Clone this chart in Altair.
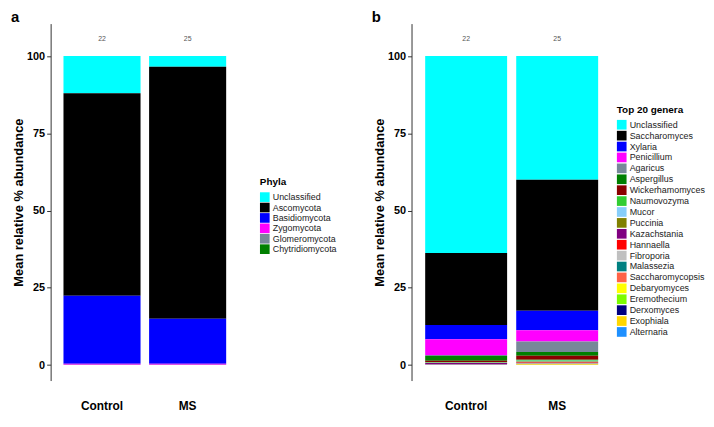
import altair as alt
import pandas as pd

groups = ["Control", "MS"]
counts = [22, 25]

phyla = ["Unclassified", "Ascomycota", "Basidiomycota", "Zygomycota",
         "Glomeromycota", "Chytridiomycota"]
phyla_colors = ["#00FFFF", "#000000", "#0000FF", "#FF00FF", "#778899", "#008000"]
phyla_control = [12.0, 65.6, 22.0, 0.3, 0.05, 0.05]
phyla_ms = [3.5, 81.5, 14.6, 0.3, 0.05, 0.05]

genera = ["Unclassified", "Saccharomyces", "Xylaria", "Penicillium", "Agaricus",
          "Aspergillus", "Wickerhamomyces", "Naumovozyma", "Mucor", "Puccinia",
          "Kazachstania", "Hannaella", "Fibroporia", "Malassezia",
          "Saccharomycopsis", "Debaryomyces", "Eremothecium", "Derxomyces",
          "Exophiala", "Alternaria"]
genera_colors = ["#00FFFF", "#000000", "#0000FF", "#FF00FF", "#778899",
                 "#008000", "#8B0000", "#32CD32", "#87CEFA", "#808000",
                 "#800080", "#FF0000", "#C0C0C0", "#008080", "#FF6347",
                 "#FFFF00", "#7CFC00", "#000080", "#FFD700", "#1E90FF"]
genera_control = [63.73, 23.3, 4.6, 5.1, 0.3, 1.6, 0.4, 0.1, 0.1, 0.1,
                  0.3, 0.05, 0.1, 0.05, 0.05, 0.02, 0.02, 0.02, 0.03, 0.03]
genera_ms = [40.0, 42.4, 6.3, 3.7, 3.4, 1.2, 1.3, 0.3, 0.2, 0.3,
             0.1, 0.1, 0.2, 0.1, 0.1, 0.05, 0.05, 0.05, 0.1, 0.05]

FONT = "Liberation Sans"


def long_table(names, ctrl, ms):
    rows = []
    for i, n in enumerate(names):
        rows.append({"group": "Control", "taxon": n, "value": ctrl[i], "idx": i})
        rows.append({"group": "MS", "taxon": n, "value": ms[i], "idx": i})
    return pd.DataFrame(rows)


count_df = pd.DataFrame({"group": groups, "n": [str(c) for c in counts],
                         "y": [105.4, 105.4]})


def panel(names, colors, ctrl, ms, legend_title, letter, width, legend_x,
          legend_y, row_pad):
    df = long_table(names, ctrl, ms)
    xenc = alt.X("group:N", sort=groups, title=None,
                 scale=alt.Scale(paddingInner=0.1, paddingOuter=0.15),
                 axis=alt.Axis(labelAngle=0, labelFontSize=12,
                               labelFontWeight="bold", labelColor="#000000",
                               domain=False, ticks=False, labelPadding=20,
                               labelFont=FONT))
    yscale = alt.Scale(domain=[-5, 110.5], nice=False, zero=False)
    bars = alt.Chart(df).mark_bar().encode(
        x=xenc,
        y=alt.Y("sum(value):Q", stack="zero", scale=yscale,
                title="Mean relative % abundance",
                axis=alt.Axis(values=[0, 25, 50, 75, 100], grid=False,
                              labelFontSize=11, labelFontWeight="bold",
                              labelColor="#000000", labelFont=FONT,
                              labelPadding=2,
                              titleFont=FONT, titleFontSize=13,
                              titleFontWeight="bold", titleColor="#000000",
                              domainColor="#333333", tickColor="#333333",
                              tickSize=4, titlePadding=1)),
        color=alt.Color("taxon:N",
                        scale=alt.Scale(domain=names, range=colors),
                        legend=alt.Legend(title=legend_title, orient="none",
                                          legendX=legend_x, legendY=legend_y,
                                          symbolType="square", symbolSize=95,
                                          symbolStrokeWidth=0,
                                          labelFontSize=9, labelFont=FONT,
                                          labelColor="#222222",
                                          titleFontSize=10, titleFont=FONT,
                                          titleFontWeight="bold",
                                          titleColor="#000000",
                                          rowPadding=row_pad, labelOffset=3,
                                          titlePadding=5)),
        order=alt.Order("idx:Q", sort="descending"),
    )
    text = alt.Chart(count_df).mark_text(fontSize=7, fill="#555555",
                                         font=FONT).encode(
        x=alt.X("group:N", sort=groups),
        y=alt.Y("y:Q", scale=yscale),
        text="n:N",
    )
    lab = alt.Chart(pd.DataFrame({"t": [letter]})).mark_text(
        fontSize=15, fontWeight="bold", font=FONT, align="left",
        baseline="alphabetic", color="#000000").encode(
        x=alt.value(-40), y=alt.value(-2), text="t:N")
    return alt.layer(bars, text, lab).properties(width=width, height=360)


pa = panel(phyla, phyla_colors, phyla_control, phyla_ms, "Phyla", "a", 190,
           211, 155, 0.5)
pb = panel(genera, genera_colors, genera_control, genera_ms, "Top 20 genera",
           "b", 202, 207, 82, 1)

chart = alt.hconcat(pa, pb, spacing=35).resolve_scale(
    color="independent").properties(padding={"left": 3, "top": 0,
                                             "right": 0, "bottom": 0}
).configure_view(stroke=None)

chart.save("out.html", embed_options={"renderer": "svg", "actions": False})
